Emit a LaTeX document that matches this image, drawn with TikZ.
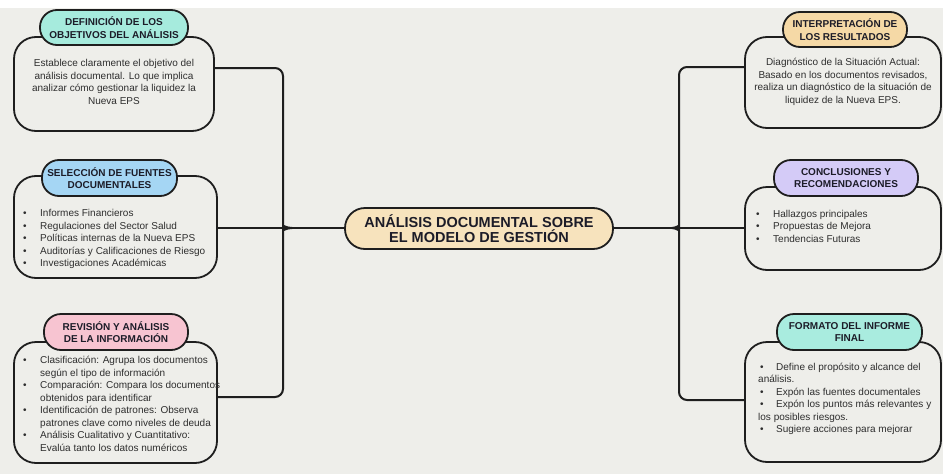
\documentclass[tikz,border=0pt]{standalone}
\usepackage{fontspec}
\setmainfont{Liberation Sans}
\definecolor{bgc}{HTML}{EEEEEA}
\definecolor{linec}{HTML}{1E1E1E}
\definecolor{txtc}{HTML}{2E2E2E}
\definecolor{ttlc}{HTML}{1C1C28}
\definecolor{pa}{HTML}{A6EBDD}
\definecolor{pb}{HTML}{A5D6F4}
\definecolor{pc}{HTML}{F7C4D1}
\definecolor{pd}{HTML}{F5D9A6}
\definecolor{pe}{HTML}{D4CBF7}
\definecolor{pf}{HTML}{A9ECDF}
\definecolor{ctr}{HTML}{F7E3BD}
\newcommand{\myblt}{\makebox[17pt][l]{\textbullet}}
\newcommand{\myind}{\hspace*{17pt}}
\tikzset{
  bodybox/.style={draw=linec, line width=1.8pt, fill=bgc, rounded corners=22pt, inner sep=0pt},
  pillbox/.style={draw=linec, line width=1.8pt, rounded corners=17pt, inner sep=0pt, align=center,
    text=ttlc, font=\bfseries\fontsize{10}{12.5}\selectfont},
  bodytxt/.style={inner sep=0pt, text=txtc, font=\fontsize{10}{12.5}\selectfont},
  conn/.style={draw=linec, line width=2pt, rounded corners=8pt},
}
\begin{document}
\begin{tikzpicture}[x=1pt,y=-1pt]
\useasboundingbox (0,0) rectangle (943,474);
\fill[white] (0,0) rectangle (943,474);
\fill[bgc] (0,8) rectangle (943,474);

% coordinates for connector corners
\coordinate (lt) at (283,68);
\coordinate (lb) at (283,397);
\coordinate (tipL) at (292,228);
\coordinate (rt) at (679,67);
\coordinate (rb) at (679,400);
\coordinate (tipR) at (672,228);

% connectors
\draw[conn] (214,68) -- (lt) -- (283,218) .. controls (283,225) and (286,228) .. (tipL);
\draw[conn] (tipL) .. controls (286,228) and (283,231) .. (283,238) -- (lb) -- (217,397);
\draw[conn] (745,67) -- (rt) -- (679,218) .. controls (679,225) and (676,228) .. (tipR);
\draw[conn] (tipR) .. controls (676,228) and (679,231) .. (679,238) -- (rb) -- (745,400);

% bodies
\node[bodybox, minimum width=200pt, minimum height=94pt] (b1) at (114,84) {};
\node[bodybox, minimum width=203pt, minimum height=102pt] (b2) at (115.5,227) {};
\node[bodybox, minimum width=203pt, minimum height=121pt] (b3) at (115.5,402.5) {};
\node[bodybox, minimum width=196pt, minimum height=91pt] (b4) at (843,82.5) {};
\node[bodybox, minimum width=196pt, minimum height=83pt] (b5) at (843,228.5) {};
\node[bodybox, minimum width=196pt, minimum height=120pt] (b6) at (843,402) {};

% center
\node[draw=linec, line width=1.8pt, fill=ctr, rounded corners=20pt, minimum width=268pt,
  minimum height=41pt, inner sep=0pt, align=center, text=ttlc,
  font=\bfseries\fontsize{14.5}{15}\selectfont] (c) at (479,228.5)
  {ANÁLISIS DOCUMENTAL SOBRE\\EL MODELO DE GESTIÓN};

\draw[conn] (b2.east |- tipL) -- (c.west |- tipL);
\draw[conn] (c.east |- tipR) -- (b5.west |- tipR);

% pills
\node[pillbox, fill=pa, minimum width=148pt, minimum height=35pt] (p1) at (114,27.5) {DEFINICIÓN DE LOS\\OBJETIVOS DEL ANÁLISIS};
\node[pillbox, fill=pb, minimum width=135pt, minimum height=36pt] (p2) at (109.5,178) {SELECCIÓN DE FUENTES\\DOCUMENTALES};
\node[pillbox, fill=pc, minimum width=144pt, minimum height=36pt] (p3) at (116,332) {REVISIÓN Y ANÁLISIS\\DE LA INFORMACIÓN};
\node[pillbox, fill=pd, minimum width=124pt, minimum height=35pt] (p4) at (845,29.5) {INTERPRETACIÓN DE\\LOS RESULTADOS};
\node[pillbox, fill=pe, minimum width=144pt, minimum height=36pt] (p5) at (846,178) {CONCLUSIONES Y\\RECOMENDACIONES};
\node[pillbox, fill=pf, minimum width=145pt, minimum height=36pt] (p6) at (849.5,332) {FORMATO DEL INFORME\\FINAL};

% texts
\node[bodytxt, align=center] (t1) at (114,82)
  {Establece claramente el objetivo del\\análisis documental. Lo que implica\\analizar cómo gestionar la liquidez la\\Nueva EPS};
\node[bodytxt, align=left, anchor=north west] (t2) at (23,209.5)
  {\myblt Informes Financieros\\\myblt Regulaciones del Sector Salud\\\myblt Políticas internas de la Nueva EPS\\\myblt Auditorías y Calificaciones de Riesgo\\\myblt Investigaciones Académicas};
\node[bodytxt, align=left, anchor=north west] (t3) at (23,356)
  {\myblt Clasificación: Agrupa los documentos\\\myind según el tipo de información\\\myblt Comparación: Compara los documentos\\\myind obtenidos para identificar\\\myblt Identificación de patrones: Observa\\\myind patrones clave como niveles de deuda\\\myblt Análisis Cualitativo y Cuantitativo:\\\myind Evalúa tanto los datos numéricos};
\node[bodytxt, align=center] (t4) at (843,82)
  {Diagnóstico de la Situación Actual:\\Basado en los documentos revisados,\\realiza un diagnóstico de la situación de\\liquidez de la Nueva EPS.};
\node[bodytxt, align=left, anchor=north west] (t5) at (756,210)
  {\myblt Hallazgos principales\\\myblt Propuestas de Mejora\\\myblt Tendencias Futuras};
\node[bodytxt, align=left, anchor=north west] (t6) at (758,362.5)
  {\hspace*{2pt}\makebox[16pt][l]{\textbullet}Define el propósito y alcance del\\análisis.\\\hspace*{2pt}\makebox[16pt][l]{\textbullet}Expón las fuentes documentales\\\hspace*{2pt}\makebox[16pt][l]{\textbullet}Expón los puntos más relevantes y\\los posibles riesgos.\\\hspace*{2pt}\makebox[16pt][l]{\textbullet}Sugiere acciones para mejorar};
\end{tikzpicture}
\end{document}
